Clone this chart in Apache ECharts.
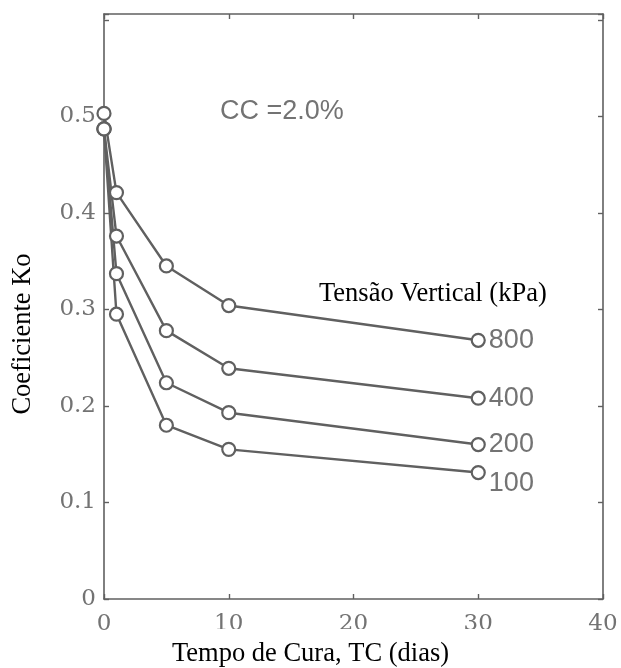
<!DOCTYPE html>
<html>
<head>
<meta charset="utf-8">
<script src="https://cdn.jsdelivr.net/npm/echarts@6/dist/echarts.min.js"></script>
<style>
  html, body { margin: 0; padding: 0; background: #ffffff; }
  #chart { width: 621px; height: 668px; }
</style>
</head>
<body>
<div id="chart"></div>
<script>
// Curing time (days) at which K0 was measured
const curingDays = [0, 1, 5, 10, 30];

// K0 for each vertical stress (kPa)
const stressLabels = ['800', '400', '200', '100'];
const k0_800 = [0.503, 0.421, 0.345, 0.304, 0.268];
const k0_400 = [0.487, 0.376, 0.278, 0.239, 0.208];
const k0_200 = [0.487, 0.337, 0.224, 0.193, 0.160];
const k0_100 = [0.487, 0.295, 0.180, 0.155, 0.131];
const seriesValues = [k0_800, k0_400, k0_200, k0_100];

// Axis ranges and ticks
const xTicks = [0, 10, 20, 30, 40];
const yMin = 0;
const yMax = 0.606;

const ink = '#606060';
const tickText = '#737373';

const chart = echarts.init(document.getElementById('chart'), null, { renderer: 'canvas' });

const lineSeries = seriesValues.map((vals, s) => ({
  type: 'line',
  name: stressLabels[s],
  data: curingDays.map((d, i) => {
    const item = { value: [d, vals[i]] };
    if (i === curingDays.length - 1) {
      item.label = {
        show: true,
        formatter: stressLabels[s],
        position: 'right',
        distance: 3,
        offset: s === 3 ? [0, 11] : [0, 0],
        color: tickText,
        fontFamily: 'Liberation Sans, Arial, sans-serif',
        fontSize: 27
      };
    }
    return item;
  }),
  symbol: 'circle',
  symbolSize: 13,
  lineStyle: { color: ink, width: 2.4 },
  itemStyle: { color: '#ffffff', borderColor: ink, borderWidth: 2.2 },
  label: { show: false },
  z: 3
}));

const axisCommon = {
  axisLine: { show: true, onZero: false, lineStyle: { color: ink, width: 1.6 } },
  axisTick: { show: true, inside: true, length: 5, lineStyle: { color: ink, width: 1.4 } },
  splitLine: { show: false }
};

chart.setOption({
  animation: false,
  backgroundColor: '#ffffff',
  grid: { left: 104, top: 14, right: 18, bottom: 69, containLabel: false },
  xAxis: [
    Object.assign({
      type: 'value', position: 'bottom',
      min: xTicks[0], max: xTicks[xTicks.length - 1], interval: 10,
      axisLabel: {
        color: tickText, fontFamily: 'DejaVu Serif, serif', fontSize: 23, margin: 14,
        formatter: v => String(v)
      }
    }, axisCommon),
    Object.assign({
      type: 'value', position: 'top',
      min: xTicks[0], max: xTicks[xTicks.length - 1], interval: 10,
      axisLabel: { show: false }
    }, axisCommon)
  ],
  yAxis: [
    Object.assign({
      type: 'value', position: 'left',
      min: yMin, max: yMax, interval: 0.1,
      axisLabel: {
        color: tickText, fontFamily: 'DejaVu Serif, serif', fontSize: 23, margin: 8,
        formatter: v => (v > 0.55 ? '' : (v === 0 ? '0' : v.toFixed(1)))
      }
    }, axisCommon),
    Object.assign({
      type: 'value', position: 'right',
      min: yMin, max: yMax, interval: 0.1,
      axisLabel: { show: false }
    }, axisCommon)
  ],
  series: lineSeries,
  graphic: [
    {
      type: 'text', left: 220, top: 98, z: 10,
      style: { text: 'CC =2.0%', fill: tickText, font: '27px "Liberation Sans", Arial, sans-serif' }
    },
    {
      type: 'rect', z: 20,
      shape: { x: 300, y: 272, width: 262, height: 41 },
      style: { fill: '#ffffff' }
    },
    {
      type: 'text', z: 21, left: 319, top: 281,
      style: { text: 'Tensão Vertical (kPa)', fill: '#000000', font: '26.5px "Liberation Serif", "Times New Roman", serif' }
    },
    {
      type: 'rect', z: 20,
      shape: { x: 150, y: 629, width: 370, height: 39 },
      style: { fill: '#ffffff' }
    },
    {
      type: 'text', z: 21, left: 'center', top: 641,
      style: { text: 'Tempo de Cura, TC (dias)', fill: '#000000', font: '26.5px "Liberation Serif", "Times New Roman", serif' }
    },
    {
      type: 'text', z: 21, left: 10, top: 'middle',
      rotation: Math.PI / 2,
      style: { text: 'Coeficiente Ko', fill: '#000000', font: '26.5px "Liberation Serif", "Times New Roman", serif' }
    }
  ]
});
</script>
</body>
</html>
